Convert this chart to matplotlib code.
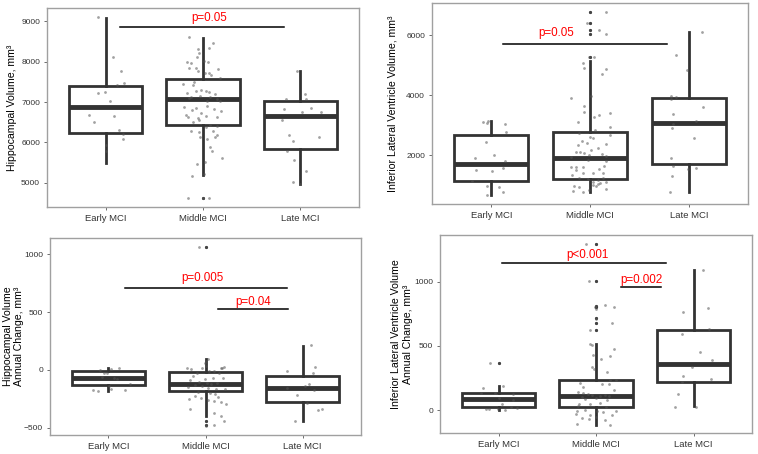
import matplotlib.pyplot as plt

plt.rcParams['font.family'] = ['Liberation Sans', 'DejaVu Sans']

groups = ['Early MCI', 'Middle MCI', 'Late MCI']

# --- hippocampal volume (top left)
hv_lo = [5480, 5190, 4960]
hv_q1 = [6236, 6434, 5830]
hv_med = [6866, 7065, 6650]
hv_q3 = [7395, 7568, 7030]
hv_hi = [9080, 8593, 7767]
hv_out = [[], [4634], []]
hv_early = [9100, 8123, 7768, 7478, 7420, 7255, 7214, 7032, 6660, 6684, 6503, 6304, 6205, 6081, 5948, 5791]
hv_early_j = [-0.08, 0.075, 0.16, 0.19, 0.12, -0.01, -0.08, 0.05, 0.09, -0.17, -0.12, 0.14, 0.18, 0.18, 0.01, 0.01]
hv_mid = [8611, 8454, 8322, 8347, 8223, 8107, 8024, 7983, 7958, 7983, 7842, 7842, 7826, 7776, 7726, 7710, 7677,
          7602, 7495, 7453, 7412, 7305, 7271, 7247, 7197, 7280, 7214, 7131, 7098, 7156, 7123, 7081, 7023, 7023,
          6866, 6850, 6800, 6784, 6833, 6899, 6717, 6676, 6618, 6602, 6660, 6635, 6511, 6552, 6428, 6403, 6288,
          6263, 6371, 6288, 6180, 6139, 6139, 6073, 5891, 5791, 5618, 5527, 5477, 5229, 5171, 4634, 4634, 4634, 4634]
hv_mid_j = [-0.14, 0.10, -0.05, 0.06, -0.04, -0.06, 0.01, -0.16, -0.12, 0.05, -0.14, -0.07, 0.15, -0.05, 0.02, 0.06,
            0.08, 0.17, -0.09, -0.20, -0.10, -0.02, 0.03, 0.06, 0.12, -0.07, -0.16, -0.12, -0.14, -0.03, 0.07, 0.14,
            0.04, 0.17, -0.19, -0.07, -0.11, 0.18, 0.11, 0.04, -0.02, -0.17, -0.15, -0.05, 0.03, 0.14, -0.10, -0.04,
            0.07, 0.14, -0.12, -0.04, 0.03, 0.10, 0.14, 0.12, -0.03, 0.04, 0.07, 0.09, 0.19, 0.02, -0.06, 0.01,
            -0.11, -0.15, 0.0, 0.0, 0.06]
hv_late = [7776, 7065, 7189, 7065, 6817, 6858, 6742, 6759, 6544, 6172, 6023, 6130, 5783, 5560, 5287, 5022, 4964]
hv_late_j = [-0.04, -0.15, 0.05, 0.06, -0.17, 0.11, 0.02, 0.21, -0.19, -0.12, -0.08, 0.19, -0.14, -0.07, 0.06, -0.08, -0.01]

# --- inferior lateral ventricle volume (top right)
ilv_lo = [678, 789, 767]
ilv_q1 = [1145, 1200, 1711]
ilv_med = [1700, 1900, 3089]
ilv_q3 = [2678, 2789, 3922]
ilv_hi = [3145, 5145, 6100]
ilv_out = [[], [6756, 6389, 6178, 6044, 5256], []]
ilv_early = [3111, 3067, 3145, 3045, 2767, 2434, 1922, 2011, 1800, 1511, 1478, 1589, 1145, 978, 934, 767, 678]
ilv_early_j = [-0.08, -0.04, -0.03, 0.14, 0.15, -0.05, -0.16, 0.03, 0.14, -0.15, 0.01, 0.12, -0.19, -0.04, 0.08, 0.12, -0.04]
ilv_mid = [6756, 6756, 6389, 6389, 6178, 6156, 6044, 6044, 5256, 5267, 5278, 5067, 4900, 4867, 4711, 3889, 3956,
           3645, 3456, 3344, 3289, 3422, 3100, 2933, 2845, 2755, 2678, 2600, 2578, 2489, 2378, 2345, 2256, 2400,
           2178, 2122, 2122, 2067, 2044, 2011, 1978, 1955, 1845, 1800, 1622, 1622, 1622, 1533, 1645, 1511, 1400,
           1400, 1400, 1345, 1233, 1200, 1178, 1233, 1122, 1044, 1089, 1122, 978, 934, 1011, 989, 822, 789, 845, 889]
ilv_mid_j = [0.0, 0.16, -0.03, 0.0, 0.0, 0.09, 0.0, 0.16, -0.01, 0.0, 0.04, -0.07, -0.06, 0.16, 0.12, -0.19, 0.01,
             -0.06, -0.06, 0.09, 0.04, 0.20, -0.12, 0.20, 0.05, -0.11, 0.20, 0.0, 0.03, -0.08, 0.16, -0.12, 0.08,
             -0.03, 0.01, -0.14, -0.10, -0.06, 0.12, -0.01, 0.16, -0.19, -0.02, 0.16, -0.19, -0.14, -0.07, 0.09,
             0.14, -0.14, -0.07, 0.03, 0.13, -0.18, -0.11, -0.02, 0.08, 0.13, 0.03, 0.08, 0.10, 0.16, -0.16, -0.11,
             0.03, 0.06, -0.17, -0.07, -0.01, 0.16]
ilv_late = [6100, 5322, 4845, 3956, 3944, 3878, 3378, 3622, 3045, 3156, 2900, 2578, 1911, 1656, 1533, 1567, 1322, 767]
ilv_late_j = [0.13, -0.13, -0.02, -0.18, -0.13, -0.18, -0.16, 0.14, -0.16, 0.07, -0.17, 0.05, -0.18, -0.16, -0.01, 0.07, -0.17, -0.19]

# --- hippocampal volume annual change (bottom left)
hvc_lo = [-180, -395, -439]
hvc_q1 = [-133, -182, -274]
hvc_med = [-66, -118, -159]
hvc_q3 = [-14, -20, -49]
hvc_hi = [20, 92, 208]
hvc_out = [[], [1065, -439, -479], []]
hvc_early = [-3, -23, 6, 20, -29, -72, -81, -121, -138, -167, -179, -173, -176, -61]
hvc_early_j = [-0.09, -0.04, 0.03, 0.11, -0.01, 0.06, 0.09, 0.22, 0.01, 0.03, -0.11, -0.16, 0.17, -0.06]
hvc_mid = [1065, 1065, 92, 81, 58, 35, 29, 20, 18, 14, 9, 12, -6, -14, -23, -29, -49, -72, -78, -87, -101, -72,
           -115, -121, -115, -130, -138, -144, -159, -167, -167, -187, -202, -211, -222, -231, -245, -260, -254,
           -265, -280, -294, -338, -369, -398, -439, -439, -479, -479, -485]
hvc_mid_j = [-0.07, 0.01, 0.03, 0.01, -0.01, 0.01, 0.19, 0.16, 0.17, -0.19, -0.15, -0.04, 0.09, 0.04, -0.09, 0.14,
             -0.13, 0.08, -0.01, -0.16, -0.07, 0.18, 0.02, 0.06, 0.12, -0.11, -0.04, -0.18, 0.03, 0.11, 0.20, -0.08,
             0.05, 0.10, -0.11, 0.13, -0.05, 0.03, -0.17, 0.09, 0.16, 0.21, -0.16, 0.09, 0.16, 0.01, 0.19, 0.01, 0.09, 0.0]
hvc_late = [211, -14, 23, -23, -121, -136, -153, -173, -219, -288, -346, -338, -441]
hvc_late_j = [0.09, -0.16, 0.13, 0.11, 0.06, 0.02, -0.16, 0.12, -0.06, 0.04, 0.16, 0.20, -0.08]

# --- inferior lateral ventricle volume annual change (bottom right)
ilvc_lo = [3, -111, 31]
ilvc_q1 = [23, 26, 220]
ilvc_med = [85, 109, 359]
ilvc_q3 = [134, 233, 625]
ilvc_hi = [191, 517, 1093]
ilvc_out = [[370], [1289, 1008, 814, 804, 716, 677, 623], []]
ilvc_early = [370, 370, 173, 191, 134, 134, 129, 96, 83, 52, 13, 13, 5, 26, 10, 21]
ilvc_early_j = [-0.09, 0.0, -0.16, 0.05, -0.18, -0.04, 0.15, 0.01, 0.15, 0.04, -0.10, -0.01, 0.07, 0.13, -0.13, 0.19]
ilvc_mid = [1289, 1289, 1008, 1008, 814, 804, 788, 817, 804, 716, 708, 677, 677, 623, 623, 517, 509, 478, 432,
            398, 424, 336, 320, 300, 238, 238, 212, 207, 207, 181, 160, 142, 134, 127, 122, 114, 119, 109, 101, 91,
            96, 83, 49, 52, 57, 31, 26, -8, 5, -8, -8, -26, -34, -52, -16, -59, -78, -65, -34, -106, -114]
ilvc_mid_j = [-0.10, 0.0, -0.07, 0.0, 0.0, -0.01, 0.0, 0.09, 0.18, 0.0, 0.0, 0.0, 0.16, -0.06, 0.0, -0.06, -0.04,
              0.18, -0.03, 0.05, 0.14, -0.04, -0.02, 0.11, 0.14, 0.20, -0.16, 0.13, 0.06, -0.13, 0.18, -0.18, -0.13,
              -0.08, -0.04, 0.04, 0.09, 0.13, -0.14, -0.11, 0.0, 0.11, -0.17, -0.06, 0.04, -0.18, 0.10, -0.19, -0.11,
              0.01, 0.20, -0.21, -0.06, 0.0, 0.07, -0.14, 0.09, -0.07, 0.16, -0.20, 0.14]
ilvc_late = [1090, 798, 765, 630, 594, 455, 388, 336, 266, 245, 217, 127, 28, 28]
ilvc_late_j = [0.10, 0.15, -0.11, 0.16, -0.12, 0.07, 0.19, -0.02, -0.11, 0.18, -0.12, -0.16, -0.19, 0.03]

W, H = 758, 454
fig = plt.figure(figsize=(W / 100, H / 100), dpi=100)


def rect(x0, y0, x1, y1):
    return [x0 / W, 1 - y1 / H, (x1 - x0) / W, (y1 - y0) / H]


def panel(r, lo, q1, med, q3, hi, out, pts, jit, ylim, yticks, ylabel, labx, brackets):
    ax = fig.add_axes(rect(*r))
    stats = [dict(whislo=lo[i], q1=q1[i], med=med[i], q3=q3[i], whishi=hi[i], fliers=out[i])
             for i in range(3)]
    ax.bxp(stats, positions=[1, 2, 3], widths=0.75, patch_artist=True, showcaps=False,
           boxprops=dict(facecolor='white', edgecolor='#333333', linewidth=2),
           medianprops=dict(color='#333333', linewidth=3.5, solid_capstyle='butt'),
           whiskerprops=dict(color='#333333', linewidth=2),
           flierprops=dict(marker='o', markersize=2.3, markerfacecolor='#333333',
                           markeredgecolor='none'))
    for i in range(3):
        ax.scatter([i + 1 + j for j in jit[i]], pts[i], s=4, color='#555555', alpha=0.55,
                   linewidths=0, zorder=5)
    for x0, x1, y, txt, tx, ty in brackets:
        ax.plot([x0, x1], [y, y], color='black', lw=1.1, zorder=6)
        ax.text(tx, ty, txt, color='red', fontsize=8.4, ha='center', va='center')
    ax.set_xlim(0.4, 3.6)
    ax.set_ylim(*ylim)
    ax.set_yticks(yticks)
    ax.set_xticks([1, 2, 3])
    ax.set_xticklabels(groups, fontsize=6.8, color='#333333')
    ax.tick_params(axis='y', labelsize=6, labelcolor='#333333')
    ax.tick_params(length=2, width=0.6, color='#555555', pad=3)
    for s in ax.spines.values():
        s.set_color('#a0a0a0')
        s.set_linewidth(1)
    ax.set_ylabel(ylabel, fontsize=7.6)
    ax.yaxis.set_label_coords(labx, 0.5)
    return ax


panel((47, 8, 359, 207), hv_lo, hv_q1, hv_med, hv_q3, hv_hi, hv_out,
      [hv_early, hv_mid, hv_late], [hv_early_j, hv_mid_j, hv_late_j],
      (4400, 9330), [5000, 6000, 7000, 8000, 9000], 'Hippocampal Volume, mm³', -0.096,
      [(1.15, 2.83, 8850, 'p=0.05', 2.06, 9090)])

panel((432, 3, 748, 204), ilv_lo, ilv_q1, ilv_med, ilv_q3, ilv_hi, ilv_out,
      [ilv_early, ilv_mid, ilv_late], [ilv_early_j, ilv_mid_j, ilv_late_j],
      (378, 7067), [2000, 4000, 6000], 'Inferior Lateral Ventricle Volume, mm³', -0.108,
      [(1.12, 2.78, 5711, 'p=0.05', 1.66, 6067)])

panel((50, 238, 361, 435), hvc_lo, hvc_q1, hvc_med, hvc_q3, hvc_hi, hvc_out,
      [hvc_early, hvc_mid, hvc_late], [hvc_early_j, hvc_mid_j, hvc_late_j],
      (-563, 1140), [-500, 0, 500, 1000], 'Hippocampal Volume\nAnnual Change, mm³', -0.082,
      [(1.17, 2.84, 707, 'p=0.005', 1.97, 790),
       (2.13, 2.85, 525, 'p=0.04', 2.49, 585)])

panel((440, 235, 752, 433), ilvc_lo, ilvc_q1, ilvc_med, ilvc_q3, ilvc_hi, ilvc_out,
      [ilvc_early, ilvc_mid, ilvc_late], [ilvc_early_j, ilvc_mid_j, ilvc_late_j],
      (-176, 1362), [0, 500, 1000], 'Inferior Lateral Ventricle Volume\nAnnual Change, mm³', -0.088,
      [(1.04, 2.72, 1142, 'p<0.001', 1.91, 1207),
       (2.26, 2.67, 956, 'p=0.002', 2.47, 1013)])

fig.savefig('out.png', dpi=100)
